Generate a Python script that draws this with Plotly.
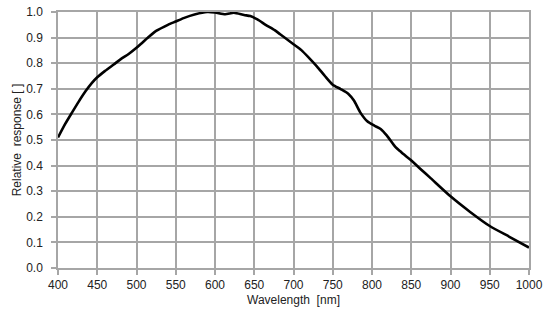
import plotly.graph_objects as go

wavelength = [400, 409, 418, 426, 435, 443, 450, 460, 471, 480, 490, 500, 508, 515, 525, 540, 550,
              560, 575, 590, 600, 613, 624, 637, 645, 654, 665, 676, 683, 700, 710, 720, 730,
              740, 750, 760, 770, 777, 785, 794, 803, 811, 819, 830, 836, 840, 849, 861, 875, 900,
              925, 950, 975, 1000]
response = [0.510, 0.562, 0.608, 0.648, 0.690, 0.722, 0.745, 0.770, 0.795, 0.816, 0.836, 0.860, 0.882, 0.901, 0.926, 0.950, 0.963,
            0.976, 0.991, 1.000, 0.998, 0.991, 0.997, 0.988, 0.984, 0.971, 0.949, 0.929, 0.913, 0.874, 0.851, 0.820, 0.787,
            0.750, 0.716, 0.699, 0.680, 0.654, 0.608, 0.573, 0.556, 0.543, 0.517, 0.472, 0.456, 0.445, 0.423, 0.389, 0.350, 0.280,
            0.219, 0.164, 0.122, 0.080]

x_ticks = list(range(400, 1001, 50))
y_ticks = [round(i * 0.1, 1) for i in range(11)]

font = dict(family="Liberation Sans, Arial", size=12, color="#222")

fig = go.Figure()
fig.add_trace(go.Scatter(x=wavelength, y=response, mode="lines",
                         line=dict(color="black", width=2.6, shape="spline", smoothing=0.6),
                         hoverinfo="skip", showlegend=False))

axis_common = dict(showgrid=True, gridcolor="#a6a6a6", gridwidth=1.5,
                   showline=True, linecolor="#a6a6a6", linewidth=1.5, mirror=True,
                   ticks="outside", ticklen=5, tickcolor="#a6a6a6", tickwidth=1.5,
                   zeroline=False, tickfont=font)

fig.update_xaxes(range=[400, 1000], tickvals=x_ticks, ticktext=[str(v) for v in x_ticks],
                 title=dict(text="Wavelength  [nm]", font=font, standoff=4),
                 **axis_common)
fig.update_yaxes(range=[0, 1.0], tickvals=y_ticks, ticktext=[f"{v:.1f}" for v in y_ticks],
                 ticklabelstandoff=6,
                 title=dict(text="Relative  response [ ]", font=font, standoff=2),
                 **axis_common)

fig.update_layout(width=554, height=331, margin=dict(l=58, r=25, t=5, b=63),
                  plot_bgcolor="white", paper_bgcolor="white")

fig.write_html("out.html")
